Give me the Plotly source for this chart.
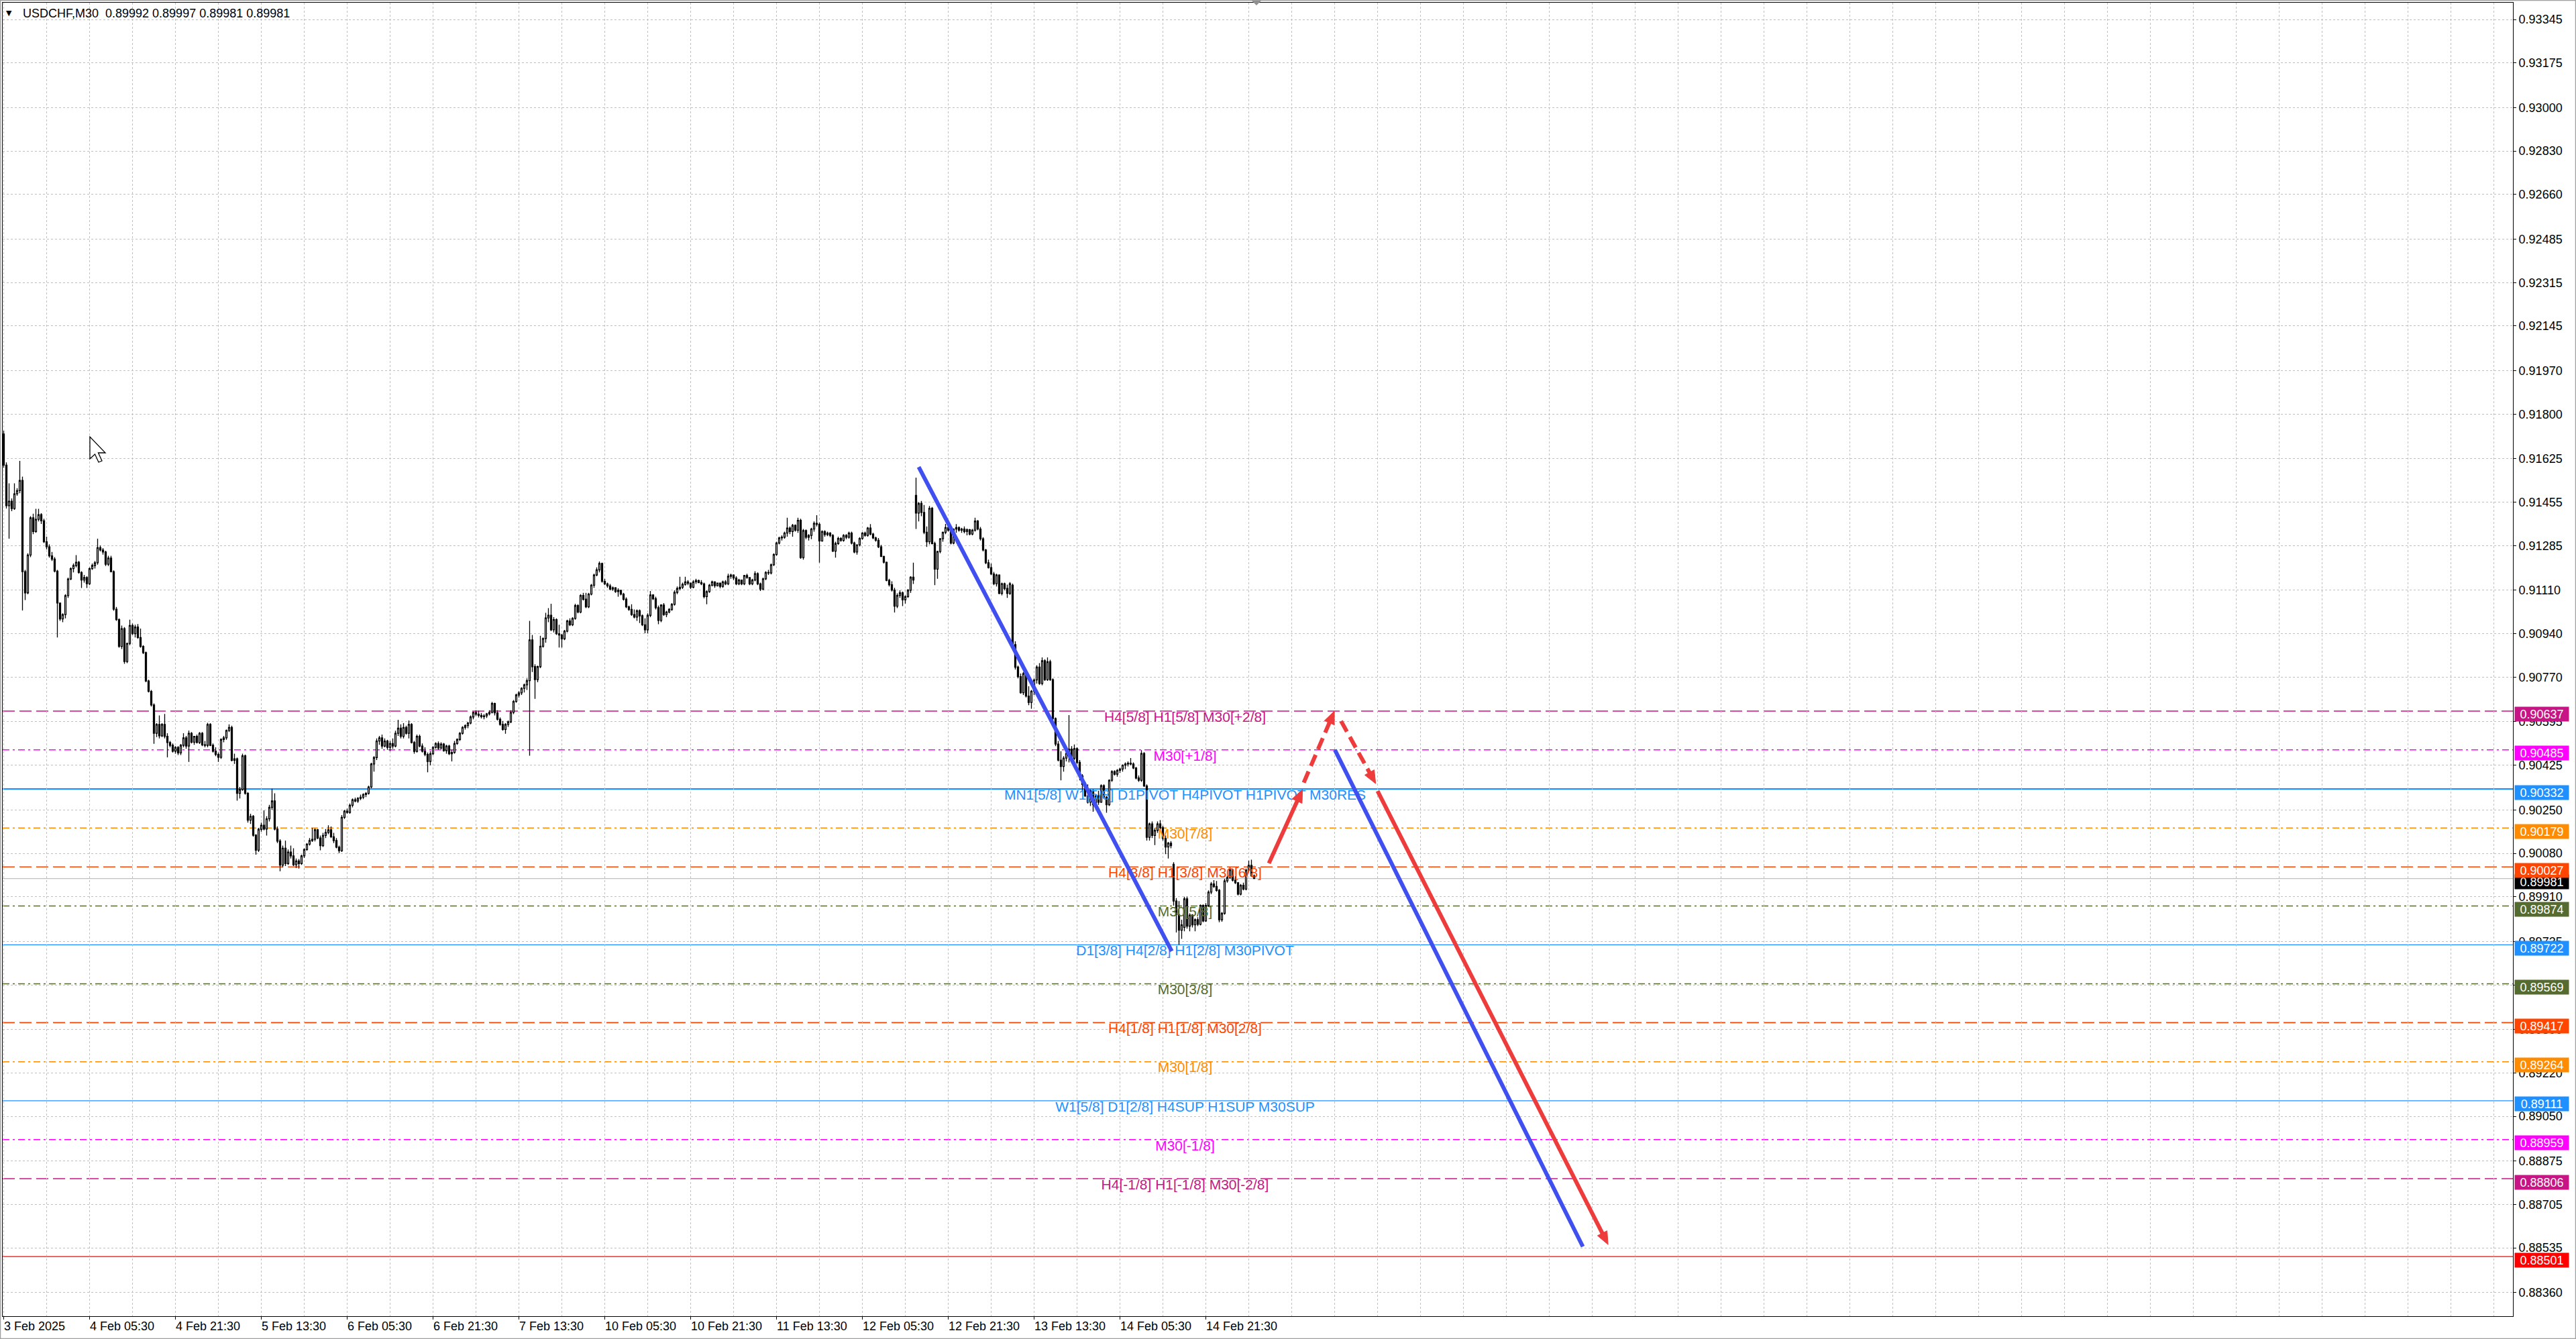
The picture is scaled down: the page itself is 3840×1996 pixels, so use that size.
import math
import plotly.graph_objects as go

# ---------------------------------------------------------------- data
PRICE_BASE = 0.89000          # bar values below are in points (1e-5) above this base
POINT = 0.00001

bar_open = [
2722,2600,2441,2459,2430,2488,2500,2540,2183,2100,
2248,2394,2340,2388,2406,2382,2300,2280,2245,2232,
2185,2060,1998,2015,2089,2154,2195,2207,2220,2180,
2150,2160,2136,2195,2207,2218,2277,2268,2260,2212,
2236,2183,2036,1995,1890,1960,1831,1902,1972,1940,
1966,1925,1890,1866,1755,1714,1661,1550,1585,1540,
1585,1538,1514,1503,1480,1495,1473,1503,1532,1500,
1550,1515,1538,1514,1550,1505,1503,1585,1503,1480,
1467,1456,1526,1532,1561,1573,1444,1450,1315,1330,
1462,1315,1210,1225,1151,1092,1174,1190,1175,1215,
1260,1285,1175,1128,1034,1100,1040,1085,1070,1035,
1050,1040,1070,1095,1116,1130,1135,1172,1140,1110,
1150,1162,1172,1145,1130,1104,1090,1221,1245,1240,
1268,1290,1285,1295,1300,1310,1315,1340,1430,1455,
1520,1532,1500,1520,1495,1510,1500,1550,1570,1538,
1573,1550,1585,1514,1479,1538,1500,1480,1467,1440,
1470,1495,1510,1492,1508,1482,1500,1470,1475,1510,
1526,1550,1573,1580,1590,1614,1632,1625,1620,1615,
1618,1626,1632,1667,1630,1605,1585,1565,1585,1595,
1632,1675,1700,1708,1726,1740,1756,1916,1811,1760,
1811,1891,1921,2002,2012,1955,1995,1940,1935,1920,
1950,1990,1975,2000,2050,2025,2090,2075,2045,2095,
2130,2170,2190,2215,2145,2135,2127,2115,2120,2105,
2110,2095,2075,2045,2035,2015,2005,2030,2010,1975,
1955,2012,2092,2077,2042,1992,2052,2015,2025,2035,
2055,2102,2117,2122,2133,2143,2138,2122,2143,2148,
2140,2135,2085,2105,2130,2143,2128,2138,2125,2143,
2135,2165,2170,2158,2135,2150,2135,2168,2160,2135,
2150,2175,2135,2115,2155,2180,2178,2210,2250,2295,
2315,2318,2334,2354,2340,2364,2345,2384,2238,2344,
2318,2325,2350,2372,2368,2303,2340,2328,2334,2325,
2263,2293,2313,2305,2325,2318,2334,2295,2260,2288,
2313,2334,2325,2354,2330,2315,2306,2280,2243,2220,
2149,2132,2111,2048,2090,2100,2073,2085,2110,2161,
2482,2412,2450,2415,2337,2300,2431,2293,2193,2262,
2312,2337,2356,2345,2295,2350,2356,2345,2350,2340,
2347,2330,2345,2381,2350,2312,2268,2218,2199,2174,
2136,2170,2098,2136,2117,2098,2130,1897,1809,1772,
1709,1784,1696,1671,1715,1759,1809,1745,1834,1760,
1830,1760,1608,1508,1445,1420,1453,1471,1488,1452,
1490,1436,1383,1350,1305,1280,1325,1270,1305,1280,
1345,1300,1270,1366,1400,1390,1405,1410,1425,1430,
1433,1430,1414,1375,1366,1471,1344,1143,1195,1150,
1170,1195,1180,1138,1105,1120,1037,893,840,779,
790,902,795,838,800,820,802,876,815,876,
928,960,950,935,820,845,972,985,1015,975,
965,920,955,940,1014,1033,992]

bar_high = [
2735,2611,2529,2470,2529,2510,2617,2555,2190,2255,
2400,2410,2429,2429,2412,2390,2320,2290,2260,2240,
2190,2062,2020,2095,2160,2200,2215,2248,2225,2185,
2170,2165,2200,2215,2225,2312,2285,2275,2265,2245,
2245,2188,2045,2000,1972,1966,1905,1995,1980,1975,
1978,1960,1895,1870,1760,1720,1667,1590,1620,1590,
1626,1550,1520,1510,1500,1500,1508,1550,1540,1561,
1555,1540,1545,1555,1555,1520,1591,1590,1510,1495,
1475,1530,1540,1565,1585,1580,1470,1455,1340,1470,
1467,1320,1235,1230,1155,1180,1200,1248,1225,1270,
1333,1315,1185,1135,1110,1130,1095,1110,1100,1060,
1058,1075,1100,1120,1140,1180,1178,1175,1150,1160,
1175,1190,1185,1160,1140,1110,1230,1250,1255,1275,
1295,1298,1300,1310,1315,1320,1345,1435,1460,1530,
1540,1545,1530,1525,1520,1530,1560,1603,1585,1590,
1580,1600,1590,1520,1545,1545,1510,1495,1475,1480,
1500,1515,1518,1515,1512,1505,1505,1485,1520,1530,
1555,1578,1585,1595,1620,1635,1640,1638,1630,1625,
1630,1640,1673,1670,1640,1612,1598,1590,1600,1640,
1680,1705,1715,1730,1745,1765,1990,1935,1820,1815,
1932,1925,2022,2040,2057,2005,2000,1975,1940,1955,
1995,2000,2005,2057,2055,2095,2100,2100,2100,2135,
2175,2200,2223,2218,2155,2140,2135,2125,2122,2118,
2112,2100,2082,2050,2055,2035,2035,2035,2015,2000,
2020,2107,2095,2085,2050,2055,2060,2030,2040,2060,
2110,2125,2163,2140,2163,2150,2140,2150,2155,2152,
2150,2140,2110,2135,2148,2145,2140,2140,2148,2150,
2175,2175,2172,2165,2155,2152,2170,2175,2162,2155,
2185,2180,2140,2160,2185,2190,2215,2255,2300,2320,
2325,2340,2394,2360,2370,2368,2394,2390,2350,2348,
2330,2355,2380,2404,2375,2345,2345,2340,2338,2330,
2300,2320,2318,2330,2330,2340,2340,2300,2290,2318,
2338,2340,2358,2369,2335,2320,2315,2288,2245,2222,
2155,2145,2120,2098,2110,2105,2090,2115,2165,2218,
2551,2455,2460,2444,2360,2440,2436,2300,2265,2315,
2340,2370,2362,2350,2352,2369,2360,2355,2360,2352,
2350,2350,2394,2385,2358,2318,2272,2230,2215,2182,
2175,2172,2140,2140,2132,2142,2136,1910,1815,1784,
1790,1790,1734,1720,1765,1816,1825,1847,1840,1847,
1838,1765,1612,1520,1480,1460,1478,1621,1500,1506,
1495,1445,1390,1360,1350,1330,1330,1310,1325,1350,
1350,1305,1370,1405,1405,1410,1415,1428,1436,1440,
1453,1436,1418,1385,1484,1476,1350,1200,1205,1178,
1205,1210,1188,1150,1125,1128,1045,905,893,820,
910,910,845,842,825,830,880,880,885,935,
968,975,972,940,850,980,992,1024,1020,990,
968,960,965,1020,1051,1055,997]

bar_low = [
2590,2430,2312,2420,2425,2480,2490,2031,2072,2095,
2240,2330,2335,2380,2370,2295,2270,2238,2225,2180,
1925,1990,1985,2000,2080,2150,2180,2200,2175,2119,
2140,2119,2130,2190,2195,2210,2262,2250,2205,2205,
2180,2030,1990,1885,1880,1822,1825,1895,1935,1925,
1920,1885,1860,1750,1710,1655,1509,1535,1530,1535,
1530,1456,1495,1475,1470,1465,1465,1495,1490,1438,
1510,1505,1510,1508,1500,1495,1495,1500,1475,1460,
1438,1450,1515,1525,1555,1440,1430,1286,1295,1325,
1310,1200,1195,1145,1075,1085,1165,1170,1150,1205,
1250,1170,1120,1010,1025,1030,1035,1060,1030,1022,
1020,1035,1062,1090,1110,1125,1127,1135,1092,1105,
1140,1155,1140,1120,1100,1081,1085,1215,1235,1235,
1260,1280,1278,1288,1292,1300,1310,1335,1400,1445,
1505,1490,1495,1485,1480,1490,1495,1540,1530,1530,
1545,1530,1510,1470,1475,1495,1475,1460,1397,1425,
1465,1490,1485,1488,1478,1470,1465,1440,1470,1505,
1520,1545,1565,1570,1585,1605,1618,1612,1608,1605,
1610,1620,1628,1620,1600,1580,1560,1548,1575,1590,
1625,1670,1690,1700,1710,1720,1462,1790,1685,1750,
1805,1885,1905,1985,1950,1945,1935,1886,1886,1915,
1945,1970,1970,1995,2020,2020,2070,2040,2040,2090,
2120,2165,2180,2140,2130,2120,2110,2108,2100,2085,
2090,2070,2040,2030,2010,2000,1990,1982,1970,1942,
1942,2005,2072,2035,1977,1985,2010,2005,2020,2030,
2050,2095,2110,2115,2128,2130,2115,2118,2135,2138,
2130,2078,2055,2100,2125,2120,2125,2118,2120,2130,
2130,2155,2150,2130,2130,2130,2130,2155,2130,2130,
2145,2130,2107,2110,2150,2170,2172,2205,2245,2290,
2305,2312,2320,2330,2320,2340,2335,2233,2230,2310,
2305,2310,2340,2360,2218,2300,2320,2322,2318,2260,
2238,2288,2300,2300,2310,2312,2290,2255,2250,2282,
2308,2320,2320,2325,2310,2300,2275,2240,2215,2145,
2125,2105,2023,2040,2080,2048,2058,2080,2100,2135,
2350,2380,2400,2330,2280,2290,2290,2130,2155,2255,
2300,2330,2340,2290,2290,2335,2340,2335,2333,2325,
2325,2325,2340,2345,2305,2262,2212,2195,2170,2130,
2125,2095,2090,2110,2080,2092,1890,1800,1765,1705,
1700,1690,1660,1646,1700,1745,1740,1738,1755,1755,
1755,1600,1500,1440,1366,1400,1440,1436,1440,1445,
1430,1366,1326,1300,1275,1265,1243,1260,1270,1278,
1295,1239,1265,1360,1385,1380,1395,1400,1410,1420,
1425,1410,1370,1360,1360,1340,1130,1130,1140,1112,
1160,1170,1130,1077,1060,1100,875,770,722,745,
775,785,775,790,775,795,798,810,812,870,
920,945,930,810,812,840,965,980,970,960,
915,915,935,935,1005,988,981]

bar_close = [
2600,2441,2459,2430,2488,2500,2540,2183,2100,2248,
2394,2340,2388,2406,2382,2300,2280,2245,2232,2185,
2060,1998,2015,2089,2154,2195,2207,2220,2180,2150,
2160,2136,2195,2207,2218,2277,2268,2260,2212,2236,
2183,2036,1995,1890,1960,1831,1902,1972,1940,1966,
1925,1890,1866,1755,1714,1661,1550,1585,1540,1585,
1538,1514,1503,1480,1495,1473,1503,1532,1500,1550,
1515,1538,1514,1550,1505,1503,1585,1503,1480,1467,
1456,1526,1532,1561,1573,1444,1450,1315,1330,1462,
1315,1210,1225,1151,1092,1174,1190,1175,1215,1260,
1285,1175,1128,1034,1100,1040,1085,1070,1035,1050,
1040,1070,1095,1116,1130,1135,1172,1140,1110,1150,
1162,1172,1145,1130,1104,1090,1221,1245,1240,1268,
1290,1285,1295,1300,1310,1315,1340,1430,1455,1520,
1532,1500,1520,1495,1510,1500,1550,1570,1538,1573,
1550,1585,1514,1479,1538,1500,1480,1467,1440,1470,
1495,1510,1492,1508,1482,1500,1470,1475,1510,1526,
1550,1573,1580,1590,1614,1632,1625,1620,1615,1618,
1626,1632,1667,1630,1605,1585,1565,1585,1595,1632,
1675,1700,1708,1726,1740,1756,1916,1811,1760,1811,
1891,1921,2002,2012,1955,1995,1940,1935,1920,1950,
1990,1975,2000,2050,2025,2090,2075,2045,2095,2130,
2170,2190,2215,2145,2135,2127,2115,2120,2105,2110,
2095,2075,2045,2035,2015,2005,2030,2010,1975,1955,
2012,2092,2077,2042,1992,2052,2015,2025,2035,2055,
2102,2117,2122,2133,2143,2138,2122,2143,2148,2140,
2135,2085,2105,2130,2143,2128,2138,2125,2143,2135,
2165,2170,2158,2135,2150,2135,2168,2160,2135,2150,
2175,2135,2115,2155,2180,2178,2210,2250,2295,2315,
2318,2334,2354,2340,2364,2345,2384,2238,2344,2318,
2325,2350,2372,2368,2303,2340,2328,2334,2325,2263,
2293,2313,2305,2325,2318,2334,2295,2260,2288,2313,
2334,2325,2354,2330,2315,2306,2280,2243,2220,2149,
2132,2111,2048,2090,2100,2073,2085,2110,2161,2150,
2412,2450,2415,2337,2300,2431,2293,2193,2262,2312,
2337,2356,2345,2295,2350,2356,2345,2350,2340,2347,
2330,2345,2381,2350,2312,2268,2218,2199,2174,2136,
2170,2098,2136,2117,2098,2136,1897,1809,1772,1709,
1784,1696,1671,1715,1759,1809,1745,1834,1760,1830,
1760,1608,1508,1445,1420,1453,1471,1488,1452,1490,
1436,1383,1350,1305,1280,1325,1270,1305,1280,1345,
1300,1270,1366,1400,1390,1405,1410,1425,1430,1433,
1430,1414,1375,1366,1471,1344,1143,1195,1150,1170,
1195,1180,1138,1105,1120,1110,893,840,779,800,
902,795,838,800,820,802,876,815,876,928,
960,950,935,820,845,972,985,1015,975,965,
920,955,940,1014,1033,992,981]

time_tick_bars = [0, 32, 64, 96, 128, 160, 192, 224, 256, 288, 320, 352, 384, 416, 448]
time_tick_labels = ["3 Feb 2025", "4 Feb 05:30", "4 Feb 21:30", "5 Feb 13:30", "6 Feb 05:30",
                    "6 Feb 21:30", "7 Feb 13:30", "10 Feb 05:30", "10 Feb 21:30", "11 Feb 13:30",
                    "12 Feb 05:30", "12 Feb 21:30", "13 Feb 13:30", "14 Feb 05:30", "14 Feb 21:30"]

price_ticks = [0.93345, 0.93175, 0.93000, 0.92830, 0.92660, 0.92485, 0.92315, 0.92145, 0.91970,
               0.91800, 0.91625, 0.91455, 0.91285, 0.91110, 0.90940, 0.90770, 0.90595, 0.90425,
               0.90250, 0.90080, 0.89910, 0.89735, 0.89565, 0.89390, 0.89220, 0.89050, 0.88875,
               0.88705, 0.88535, 0.88360]
price_tick_labels = ["0.93345", "0.93175", "0.93000", "0.92830", "0.92660", "0.92485", "0.92315",
                     "0.92145", "0.91970", "0.91800", "0.91625", "0.91455", "0.91285", "0.91110",
                     "0.90940", "0.90770", "0.90595", "0.90425", "0.90250", "0.90080", "0.89910",
                     "0.89735", "0.89565", "0.89390", "0.89220", "0.89050", "0.88875", "0.88705",
                     "0.88535", "0.88360"]

level_prices = [0.90637, 0.90485, 0.90332, 0.90179, 0.90027, 0.89874, 0.89722,
                0.89569, 0.89417, 0.89264, 0.89111, 0.88959, 0.88806, 0.88501]
level_texts = ["H4[5/8] H1[5/8] M30[+2/8]", "M30[+1/8]",
               "MN1[5/8] W1[5/8] D1PIVOT H4PIVOT H1PIVOT M30RES", "M30[7/8]",
               "H4[3/8] H1[3/8] M30[6/8]", "M30[5/8]", "D1[3/8] H4[2/8] H1[2/8] M30PIVOT",
               "M30[3/8]", "H4[1/8] H1[1/8] M30[2/8]", "M30[1/8]",
               "W1[5/8] D1[2/8] H4SUP H1SUP M30SUP", "M30[-1/8]", "H4[-1/8] H1[-1/8] M30[-2/8]", ""]
level_colors = ["#C71585", "#FF00FF", "#1E90FF", "#FF8C00", "#FF4500", "#556B2F", "#1E90FF",
                "#556B2F", "#FF4500", "#FF8C00", "#1E90FF", "#FF00FF", "#C71585", "#FF0000"]
level_dash = ["dash", "dashdot", "solid", "dashdot", "dash", "dashdot", "solid",
              "dashdot", "dash", "dashdot", "solid", "dashdot", "dash", "solid"]
level_width = [1.6, 1.5, 2.2, 1.5, 1.6, 1.5, 1.3, 1.5, 1.6, 1.5, 1.3, 1.5, 1.6, 1.2]

current_price = 0.89981
header_values = ["0.89992", "0.89997", "0.89981", "0.89981"]
symbol_label = "USDCHF,M30"

# drawn objects: (bar index, price)
blue_line_1_bars = [341.0, 435.3]
blue_line_1_prices = [0.91593, 0.89697]
blue_line_2_bars = [496.1, 588.5]
blue_line_2_prices = [0.90485, 0.88540]
red_up_solid_bars = [471.5, 484.0]
red_up_solid_prices = [0.90041, 0.90330]
red_up_dash_bars = [484.5, 495.9]
red_up_dash_prices = [0.90357, 0.90637]
red_down_dash_bars = [498.4, 511.3]
red_down_dash_prices = [0.90598, 0.90353]
red_down_solid_bars = [512.0, 597.9]
red_down_solid_prices = [0.90324, 0.88548]
level_text_bar = 440.25

# ---------------------------------------------------------------- layout constants
W, H = 3840, 1996
ML, MR, MT, MB = 4, 94, 4, 34
PW, PH = W - ML - MR, H - MT - MB
X_RANGE = [-0.375, 935.125]
Y_RANGE = [0.882675, 0.934110]
FONT = "Liberation Sans, Arial, sans-serif"
GRID = "#C0C0C0"
BLUE = "#3F4FF0"
RED = "#EE3B3B"
DASH_STYLES = {"dash": "18px,7px", "dashdot": "10px,5px,3px,5px", "solid": "solid"}
HEAD_LEN, HEAD_W = 19, 16
LINE_W = 6.0


def paper_x(px):
    return (px - ML) / PW


def paper_y(py):
    return (H - MB - py) / PH


def data_to_px(b, p):
    return (ML + (b - X_RANGE[0]) / (X_RANGE[1] - X_RANGE[0]) * PW,
            MT + (Y_RANGE[1] - p) / (Y_RANGE[1] - Y_RANGE[0]) * PH)


def px_to_data(x, y):
    return (X_RANGE[0] + (x - ML) / PW * (X_RANGE[1] - X_RANGE[0]),
            Y_RANGE[1] - (y - MT) / PH * (Y_RANGE[1] - Y_RANGE[0]))


n = len(bar_close)
assert len(bar_open) == n and len(bar_high) == n and len(bar_low) == n, (len(bar_open), len(bar_high), len(bar_low), n)
bars = list(range(n))
to_price = lambda pts: [round(PRICE_BASE + v * POINT, 5) for v in pts]

fig = go.Figure()

# level texts (drawn beneath the candles)
txt_idx = [i for i, t in enumerate(level_texts) if t]
fig.add_trace(go.Scatter(
    x=[level_text_bar] * len(txt_idx), y=[level_prices[i] for i in txt_idx],
    text=[level_texts[i] for i in txt_idx], mode="text", textposition="bottom center",
    textfont=dict(family=FONT, size=21, color=[level_colors[i] for i in txt_idx]),
    hoverinfo="skip", showlegend=False, cliponaxis=False))

fig.add_trace(go.Candlestick(
    x=bars, open=to_price(bar_open), high=to_price(bar_high),
    low=to_price(bar_low), close=to_price(bar_close),
    increasing=dict(line=dict(color="black", width=1.3), fillcolor="white"),
    decreasing=dict(line=dict(color="black", width=1.3), fillcolor="black"),
    whiskerwidth=0, hoverinfo="skip", showlegend=False))


def add_line(xs, ys, color, dash="solid", arrow=False):
    x_end, y_end = xs[-1], ys[-1]
    if arrow:
        (x0, y0), (x1, y1) = data_to_px(xs[0], ys[0]), data_to_px(xs[1], ys[1])
        length = math.hypot(x1 - x0, y1 - y0)
        ux, uy = (x1 - x0) / length, (y1 - y0) / length
        bx, by = x1 - ux * HEAD_LEN, y1 - uy * HEAD_LEN
        nx, ny = -uy, ux
        corners = [(x1, y1), (bx + nx * HEAD_W / 2, by + ny * HEAD_W / 2),
                   (bx - nx * HEAD_W / 2, by - ny * HEAD_W / 2), (x1, y1)]
        head = [px_to_data(cx, cy) for cx, cy in corners]
        x_end, y_end = px_to_data(bx + ux * 3, by + uy * 3)
    fig.add_trace(go.Scatter(
        x=[xs[0], x_end], y=[ys[0], y_end], mode="lines",
        line=dict(color=color, width=LINE_W, dash=dash),
        hoverinfo="skip", showlegend=False, cliponaxis=False))
    if arrow:
        fig.add_trace(go.Scatter(
            x=[h[0] for h in head], y=[h[1] for h in head], mode="lines", fill="toself",
            fillcolor=color, line=dict(color=color, width=1), hoverinfo="skip",
            showlegend=False, cliponaxis=False))


add_line(blue_line_1_bars, blue_line_1_prices, BLUE)
add_line(blue_line_2_bars, blue_line_2_prices, BLUE)
add_line(red_up_solid_bars, red_up_solid_prices, RED, arrow=True)
add_line(red_up_dash_bars, red_up_dash_prices, RED, dash="18px,9px", arrow=True)
add_line(red_down_dash_bars, red_down_dash_prices, RED, dash="18px,9px", arrow=True)
add_line(red_down_solid_bars, red_down_solid_prices, RED, arrow=True)

shapes = []
# current price line
shapes.append(dict(type="line", xref="paper", x0=0, x1=1, yref="y", y0=current_price, y1=current_price,
                   line=dict(color="#C0C0C0", width=1.2), layer="between"))
for p, c, d, w in zip(level_prices, level_colors, level_dash, level_width):
    shapes.append(dict(type="line", xref="paper", x0=0, x1=1, yref="y", y0=p, y1=p,
                       line=dict(color=c, width=w, dash=DASH_STYLES[d]), layer="between"))
# outer window frame
shapes.append(dict(type="rect", xref="paper", yref="paper",
                   x0=paper_x(0.5), x1=paper_x(W - 0.5), y0=paper_y(H - 0.5), y1=paper_y(0.5),
                   line=dict(color="#A0A0A0", width=1.5), layer="above"))
# chart-shift marker on top border
shapes.append(dict(type="path", xref="paper", yref="paper",
                   path="M {} {} L {} {} L {} {} Z".format(paper_x(1866), paper_y(1), paper_x(1880), paper_y(1),
                                                        paper_x(1873), paper_y(8)),
                   fillcolor="#909090", line=dict(width=0), layer="above"))
# mouse pointer left on the chart
cursor_tip = (134, 651)
cursor_outline = [(0, 0), (0, 33), (7.5, 26), (13, 38), (18, 36), (12.5, 24), (23, 24)]
cursor_path = "M " + " L ".join("{} {}".format(paper_x(cursor_tip[0] + dx), paper_y(cursor_tip[1] + dy))
                                for dx, dy in cursor_outline) + " Z"
shapes.append(dict(type="path", xref="paper", yref="paper", path=cursor_path, fillcolor="white",
                   line=dict(color="black", width=1.3), layer="above"))

annotations = []
# header
annotations.append(dict(xref="paper", yref="paper", x=paper_x(32), y=paper_y(20), xanchor="left", yanchor="middle",
                        text=symbol_label + "\u00a0 " + " ".join(header_values), showarrow=False,
                        font=dict(family=FONT, size=18, color="black")))
annotations.append(dict(xref="paper", yref="paper", x=paper_x(13.5), y=paper_y(19.5), xanchor="center",
                        yanchor="middle", text="\u25BC", showarrow=False,
                        font=dict(family="DejaVu Sans", size=11, color="black")))
# time labels
for b, t in zip(time_tick_bars, time_tick_labels):
    annotations.append(dict(xref="x", yref="paper", x=b, y=0, xanchor="left", yanchor="middle", yshift=-15,
                            xshift=-2, text=t, showarrow=False, font=dict(family=FONT, size=18, color="black")))
# price boxes on the right axis
box_x = paper_x(3748)
annotations.append(dict(xref="paper", yref="y", x=box_x, y=current_price, xanchor="left", yanchor="middle",
                        yshift=-5, width=80, height=21, bgcolor="black", borderpad=0, align="center",
                        text=f"{current_price:.5f}", showarrow=False,
                        font=dict(family=FONT, size=18, color="white")))
for p, c in zip(level_prices, level_colors):
    annotations.append(dict(xref="paper", yref="y", x=box_x, y=p, xanchor="left", yanchor="middle",
                            yshift=-5, width=80, height=21, bgcolor=c, borderpad=0, align="center",
                            text=f"{p:.5f}", showarrow=False,
                            font=dict(family=FONT, size=18, color="white")))

fig.update_layout(
    template="none", width=W, height=H, margin=dict(l=ML, r=MR, t=MT, b=MB, pad=0),
    paper_bgcolor="white", plot_bgcolor="white", showlegend=False, hovermode=False,
    font=dict(family=FONT, size=18, color="black"),
    shapes=shapes, annotations=annotations,
    xaxis=dict(range=X_RANGE, automargin=False, showline=True, mirror=True, linecolor="black", linewidth=1,
               zeroline=False, tickmode="array", tickvals=time_tick_bars, showticklabels=False,
               ticks="outside", ticklen=4, tickcolor="black", tickwidth=1,
               showgrid=True, gridcolor=GRID, gridwidth=1, griddash="3px,3px",
               minor=dict(tickmode="linear", tick0=0, dtick=16, showgrid=True, gridcolor=GRID,
                          gridwidth=1, griddash="3px,3px", ticks=""),
               rangeslider=dict(visible=False), fixedrange=True),
    yaxis=dict(range=Y_RANGE, automargin=False, side="right", showline=True, mirror=True, linecolor="black",
               linewidth=1, zeroline=False, tickmode="array", tickvals=price_ticks, ticktext=price_tick_labels,
               ticks="outside", ticklen=4, tickcolor="black", tickwidth=1,
               tickfont=dict(family=FONT, size=18, color="black"),
               showgrid=True, gridcolor=GRID, gridwidth=1, griddash="3px,3px", fixedrange=True),
)

fig.write_html("out.html", config={"displayModeBar": False},
               post_script="document.body.style.margin='0px';document.body.style.padding='0px';")
